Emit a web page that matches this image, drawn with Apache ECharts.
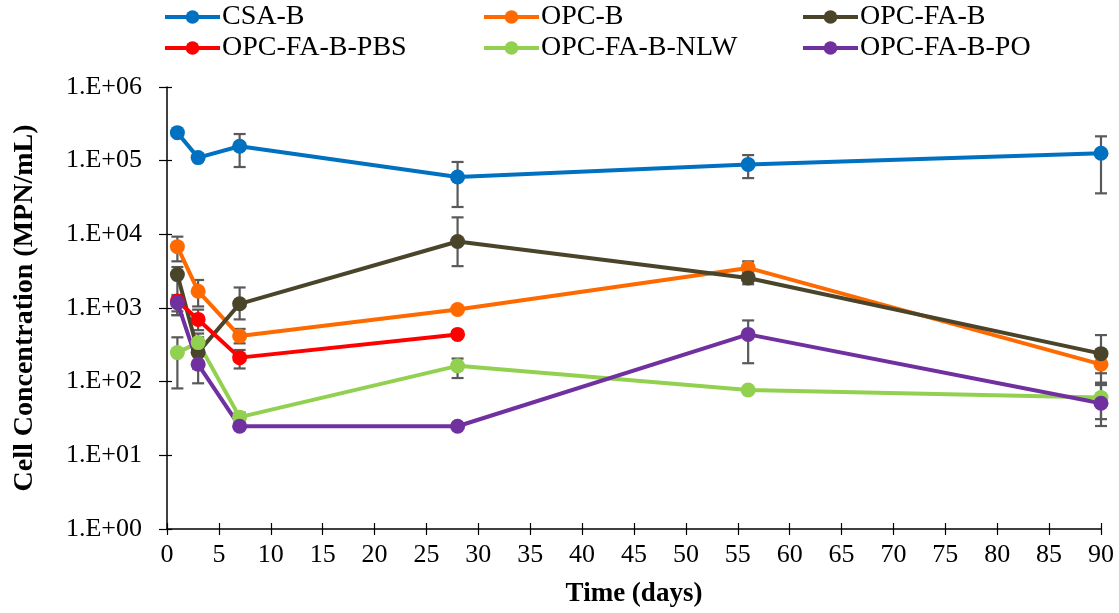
<!DOCTYPE html>
<html><head><meta charset="utf-8">
<script src="https://cdn.jsdelivr.net/npm/echarts@6/dist/echarts.min.js"></script>
<style>html,body{margin:0;padding:0;background:#fff}#c{width:1119px;height:613px}</style>
</head><body><div id="c"></div>
<script>
const seriesNames = ['CSA-B','OPC-B','OPC-FA-B','OPC-FA-B-PBS','OPC-FA-B-NLW','OPC-FA-B-PO'];
const colors = ['#0070C0','#FF6A00','#4A452A','#FF0000','#92D050','#7030A0'];
const days = [1,3,7,28,56,90];
const daysPBS = [1,3,7,28];
const csaB = [2.4e5,1.1e5,1.57e5,6.0e4,8.9e4,1.26e5];
const opcB = [6.8e3,1.69e3,416,955,3.5e3,172];
const opcFaB = [2.84e3,250,1.14e3,8.0e3,2.56e3,240];
const opcFaBPbs = [1.24e3,700,212,438];
const opcFaBNlw = [248,339,33,164,77,61];
const opcFaBPo = [1.18e3,172,24.8,24.8,438,51];
// error bars [low, high] per point, null where not shown
const errCsaB = [null,null,[8.2e4,2.3e5],[2.35e4,9.6e4],[5.8e4,1.19e5],[3.6e4,2.14e5]];
const errOpcB = [[4.3e3,9.3e3],[1.05e3,2.4e3],[331,520],null,[2.9e3,4.3e3],[97,240]];
const errOpcFaB = [[900,3.6e3],[150,400],[700,1.9e3],[3.7e3,1.7e4],[2.1e3,3.1e3],[130,429]];
const errOpcFaBPbs = [[800,1.5e3],[500,950],[151,269],null];
const errOpcFaBNlw = [[81,400],[250,450],[28,38],[112,206],null,[31,90]];
const errOpcFaBPo = [[800,1.4e3],[95,300],null,null,[178,678],[25,95]];
const yTicks = ['1.E+00','1.E+01','1.E+02','1.E+03','1.E+04','1.E+05','1.E+06'];

const allVals = [csaB,opcB,opcFaB,opcFaBPbs,opcFaBNlw,opcFaBPo];
const allErr = [errCsaB,errOpcB,errOpcFaB,errOpcFaBPbs,errOpcFaBNlw,errOpcFaBPo];
const allX = [days,days,days,daysPBS,days,days];

const font = 'Liberation Serif';
const series = [];
allVals.forEach((vals,i)=>{
  const ed = [];
  allErr[i].forEach((e,j)=>{ if(e) ed.push([allX[i][j], e[0], e[1]]); });
  series.push({
    type:'custom', name: seriesNames[i]+'_err', z:1, silent:true,
    xAxisIndex:0, yAxisIndex:0,
    data: ed,
    renderItem: function(params, api){
      const p1 = api.coord([api.value(0), api.value(1)]);
      const p2 = api.coord([api.value(0), api.value(2)]);
      const w = 6;
      const st = {stroke:'#595959', lineWidth:2.2};
      return {type:'group', children:[
        {type:'line', shape:{x1:p1[0],y1:p1[1],x2:p2[0],y2:p2[1]}, style:st},
        {type:'line', shape:{x1:p1[0]-w,y1:p1[1],x2:p1[0]+w,y2:p1[1]}, style:st},
        {type:'line', shape:{x1:p2[0]-w,y1:p2[1],x2:p2[0]+w,y2:p2[1]}, style:st}
      ]};
    }
  });
});
allVals.forEach((vals,i)=>{
  series.push({
    type:'line', name: seriesNames[i], z:3,
    xAxisIndex:0, yAxisIndex:0,
    data: vals.map((v,j)=>[allX[i][j], v]),
    symbol:'circle', symbolSize:15,
    lineStyle:{color:colors[i], width:4},
    itemStyle:{color:colors[i]},
    color: colors[i]
  });
});

const colLeft = [163, 482, 801];
const rowTop = [3, 34];
const legends = seriesNames.map((n,i)=>({
  left: colLeft[i%3], top: rowTop[Math.floor(i/3)], padding:0,
  data:[n], itemWidth:55, itemHeight:17, itemGap:0,
  lineStyle:{width:4},
  textStyle:{fontFamily:font, fontSize:28, lineHeight:28, color:'#000', padding:[0,0,0,-3]},
  selectedMode:false
}));

const xBase = {type:'value', min:0, max:90, interval:5, gridIndex:0, position:'bottom', splitLine:{show:false}};
const yBase = {type:'log', logBase:10, min:1, max:1e6, gridIndex:0, position:'left', splitLine:{show:false}, minorTick:{show:false}};

const chart = echarts.init(document.getElementById('c'));
chart.setOption({
  animation:false,
  backgroundColor:'#fff',
  color: colors,
  legend: legends,
  grid:{left:167, right:18, top:87, bottom:82, containLabel:false},
  xAxis:[
    Object.assign({}, xBase, {
      name:'Time (days)', nameLocation:'middle', nameGap:52,
      nameTextStyle:{fontFamily:font, fontSize:27, fontWeight:'bold', color:'#000'},
      axisLine:{show:true, onZero:false, lineStyle:{color:'#000', width:1.5}},
      axisTick:{show:true, length:6, lineStyle:{color:'#000', width:1.2}},
      axisLabel:{fontFamily:font, fontSize:26, color:'#000', margin:13}
    }),
    Object.assign({}, xBase, {
      axisLine:{show:false, onZero:false},
      axisTick:{show:true, inside:true, length:6, lineStyle:{color:'#000', width:1.2}},
      axisLabel:{show:false}
    })
  ],
  yAxis:[
    Object.assign({}, yBase, {
      name:'Cell Concentration (MPN/mL)', nameLocation:'middle', nameGap:128,
      nameTextStyle:{fontFamily:font, fontSize:28, fontWeight:'bold', color:'#000'},
      axisLine:{show:true, onZero:false, lineStyle:{color:'#000', width:1.5}},
      axisTick:{show:true, length:8, lineStyle:{color:'#000', width:1.2}},
      axisLabel:{fontFamily:font, fontSize:26, color:'#000', margin:25,
        formatter:function(v){ const e=Math.round(Math.log10(v)); return yTicks[e]; }}
    }),
    Object.assign({}, yBase, {
      axisLine:{show:false, onZero:false},
      axisTick:{show:true, inside:true, length:5, lineStyle:{color:'#000', width:1.2}},
      axisLabel:{show:false}
    })
  ],
  series: series
});
</script></body></html>
